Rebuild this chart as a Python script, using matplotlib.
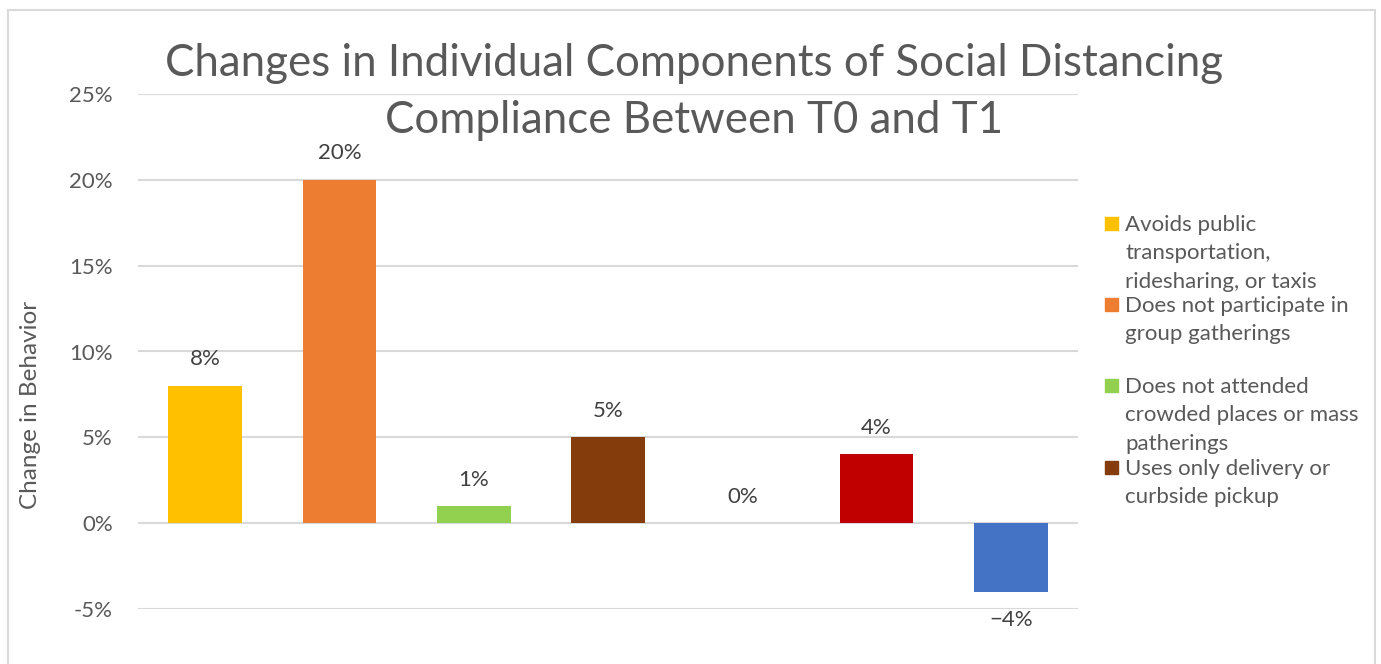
import matplotlib
matplotlib.use("Agg")
import matplotlib.pyplot as plt
from matplotlib.patches import Rectangle
from matplotlib.ticker import FuncFormatter

plt.rcParams['font.family'] = ['Lato', 'DejaVu Sans']

categories = [
    "Avoids public\ntransportation,\nridesharing, or taxis",
    "Does not participate in\ngroup gatherings",
    "Does not attended\ncrowded places or mass\npatherings",
    "Uses only delivery or\ncurbside pickup",
    "Category 5",
    "Category 6",
    "Category 7",
]
values = [8, 20, 1, 5, 0, 4, -4]
colors = ["#FFC000", "#ED7D31", "#92D050", "#843C0C", "#A5A5A5", "#C00000", "#4472C4"]
labels = ["8%", "20%", "1%", "5%", "0%", "4%", "\u22124%"]
yticks = [-5, 0, 5, 10, 15, 20, 25]
title = "Changes in Individual Components of Social Distancing\nCompliance Between T0 and T1"
ylabel = "Change in Behavior"

W, H = 1381, 664
fig = plt.figure(figsize=(W / 100, H / 100), dpi=100)
ax = fig.add_axes([138 / W, 1 - 609 / H, (1078 - 138) / W, (609 - 94) / H])

x = list(range(len(values)))
ax.bar(x, values, width=0.55, color=colors, zorder=3)
ax.set_xlim(-0.5, len(values) - 0.5)
ax.set_ylim(-5, 25)
ax.set_yticks(yticks)
ax.yaxis.set_major_formatter(FuncFormatter(lambda v, p: f"{int(v)}%"))
ax.tick_params(axis='y', length=0, pad=18, labelsize=16, labelcolor="#595959")
ax.set_xticks([])
ax.grid(axis='y', color="#D9D9D9", linewidth=1.5, zorder=0)
for s in ax.spines.values():
    s.set_visible(False)

for xi, v, lab in zip(x, values, labels):
    if v >= 0:
        ax.annotate(lab, (xi, v), xytext=(0, 19), textcoords="offset points",
                    ha="center", va="center", fontsize=16, color="#404040")
    else:
        ax.annotate(lab, (xi, v), xytext=(0, -20), textcoords="offset points",
                    ha="center", va="center", fontsize=16, color="#404040")

fig.text(694 / W, 1 - 92 / H, title, ha="center", va="center", fontsize=31.6,
         color="#595959", linespacing=1.49)
fig.text(31 / W, 1 - 405 / H, ylabel, rotation=90, ha="center", va="center",
         fontsize=17.5, color="#595959")

# legend (first four entries visible, as in the reference)
leg_y = [223, 304, 385, 467]
for (name, col, yy) in zip(categories[:4], colors[:4], leg_y):
    fig.patches.append(Rectangle(((1105) / W, 1 - (yy + 7) / H), 13 / W, 13 / H,
                                 transform=fig.transFigure, color=col, figure=fig))
    fig.text(1125 / W, 1 - (yy - 8) / H, name, ha="left", va="top", fontsize=16,
             color="#595959", linespacing=1.53)

# outer chart border
fig.patches.append(Rectangle((8 / W, -0.05), (1375 - 8) / W, 1 - 10 / H + 0.05,
                             transform=fig.transFigure, fill=False,
                             edgecolor="#D9D9D9", linewidth=1.5, figure=fig))

fig.savefig("out.png", dpi=100)
